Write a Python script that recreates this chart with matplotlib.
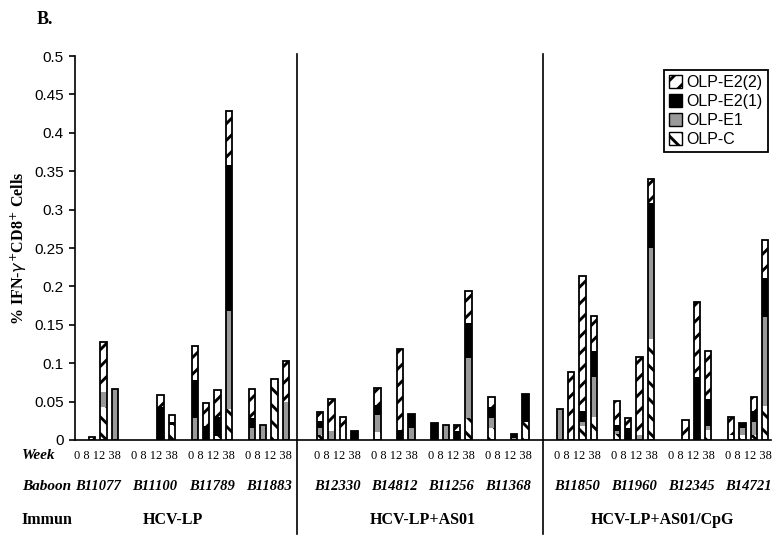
import numpy as np
import matplotlib
matplotlib.use('Agg')
import matplotlib.pyplot as plt
from matplotlib.transforms import blended_transform_factory
from matplotlib.patches import Patch

plt.rcParams['hatch.linewidth'] = 2.1

weeks = ['0', '8', '12', '38']
baboons = ['B11077', 'B11100', 'B11789', 'B11883',
           'B12330', 'B14812', 'B11256', 'B11368',
           'B11850', 'B11960', 'B12345', 'B14721']
immun = ['HCV-LP', 'HCV-LP+AS01', 'HCV-LP+AS01/CpG']

# values per baboon, weeks 0, 8, 12, 38
olp_c = [0, 0, 0.043, 0,   0, 0, 0, 0.020,   0, 0, 0.005, 0.041,   0, 0, 0.075, 0,
         0.007, 0, 0.008, 0,   0.010, 0, 0, 0,   0, 0, 0, 0.028,   0.016, 0, 0, 0.024,
         0, 0, 0.018, 0.030,   0.008, 0, 0, 0.131,   0, 0, 0, 0.013,   0.006, 0.0065, 0.006, 0.044]
olp_e1 = [0, 0, 0.020, 0.067,   0, 0, 0, 0,   0.028, 0, 0, 0.127,   0.016, 0.020, 0, 0.050,
          0.009, 0.012, 0, 0,   0.023, 0, 0, 0.016,   0, 0.020, 0, 0.079,   0.013, 0, 0.003, 0,
          0.040, 0, 0.005, 0.052,   0.004, 0, 0.006, 0.119,   0, 0, 0, 0.005,   0, 0.009, 0.018, 0.1165]
olp_e2_1 = [0, 0, 0, 0,   0, 0, 0.043, 0.003,   0.050, 0.018, 0.025, 0.190,   0.012, 0, 0, 0,
            0.009, 0, 0, 0.012,   0.013, 0, 0.013, 0.018,   0.022, 0, 0.012, 0.046,   0.014, 0, 0.005, 0.036,
            0, 0, 0.015, 0.034,   0.008, 0.015, 0, 0.058,   0, 0, 0.0825, 0.036,   0, 0.006, 0.014, 0.050]
olp_e2_2 = [0, 0.004, 0.064, 0,   0, 0, 0.015, 0.009,   0.044, 0.030, 0.035, 0.070,   0.039, 0, 0.004, 0.053,
            0.011, 0.041, 0.022, 0,   0.022, 0, 0.105, 0,   0, 0, 0.008, 0.041,   0.013, 0, 0, 0,
            0, 0.089, 0.1755, 0.046,   0.031, 0.014, 0.1025, 0.0325,   0, 0.026, 0.0975, 0.062,   0.0235, 0, 0.0175, 0.0505]

# slot positions: 4 bars per baboon, one empty slot between baboons, one more between treatments
pos = []
for g in range(len(baboons)):
    for w in range(len(weeks)):
        pos.append(g * 5 + w + g // 4)
pos = np.array(pos, dtype=float)

fig = plt.figure(figsize=(7.83, 5.39), dpi=100)
ax = fig.add_axes([0.0958, 0.1837, 0.8887, 0.7123])

width = 0.56
series = [
    ('OLP-C', np.array(olp_c), 'white', '\\\\'),
    ('OLP-E1', np.array(olp_e1), '#9a9a9a', None),
    ('OLP-E2(1)', np.array(olp_e2_1), 'black', None),
    ('OLP-E2(2)', np.array(olp_e2_2), 'white', '//'),
]
bottom = np.zeros(len(pos))
for name, vals, col, hatch in series:
    ax.bar(pos, vals, width, bottom=bottom, color=col, hatch=hatch,
           edgecolor='black', linewidth=0)
    bottom = bottom + vals

# outline of each stacked bar
has = bottom > 0
ax.bar(pos[has], bottom[has], width, fill=False, edgecolor='black', linewidth=1.3)

ax.set_xlim(-0.5, pos[-1] + 0.5)
ax.set_ylim(0, 0.5)
ax.set_yticks(np.arange(0, 0.501, 0.05))
ax.set_yticklabels(['0', '0.05', '0.1', '0.15', '0.2', '0.25', '0.3', '0.35', '0.4', '0.45', '0.5'],
                   family='Liberation Sans', fontsize=11)
ax.set_xticks([])
ax.spines['top'].set_visible(False)
ax.spines['right'].set_visible(False)
ax.spines['left'].set_linewidth(1.2)
ax.spines['bottom'].set_linewidth(1.2)
ax.tick_params(axis='y', direction='out', length=4, width=1.2, pad=4)

ax.set_ylabel('% IFN-$\\gamma^{+}$CD8$^{+}$ Cells', family='Liberation Serif',
              fontweight='bold', fontsize=11.5, labelpad=4)

# dividers between treatments
trans = blended_transform_factory(ax.transData, fig.transFigure)
for xd in [19.0, 40.5]:
    ax.plot([xd, xd], [0.009, 0.9], color='black', linewidth=1.2,
            transform=trans, clip_on=False)

# row labels below the axis
serif = 'Liberation Serif'
fig.text(0.028, 0.154, 'Week', family=serif, style='italic', fontweight='bold',
         fontsize=11, va='center', ha='left')
fig.text(0.028, 0.098, 'Baboon', family=serif, style='italic', fontweight='bold',
         fontsize=11, va='center', ha='left')
fig.text(0.028, 0.035, 'Immun', family=serif, fontweight='bold',
         fontsize=11.5, va='center', ha='left')
for g, b in enumerate(baboons):
    xc = pos[g * 4:(g + 1) * 4].mean()
    fig.text(xc, 0.154, ' '.join(weeks), family=serif, fontsize=9,
             ha='center', va='center', transform=trans)
    fig.text(xc, 0.098, b, family=serif, style='italic', fontweight='bold',
             fontsize=10.5, ha='center', va='center', transform=trans)
for t, name in enumerate(immun):
    xc = pos[t * 16:(t + 1) * 16].mean()
    if t == 0:
        xc -= 0.9
    fig.text(xc, 0.035, name, family=serif, fontweight='bold', fontsize=11.5,
             ha='center', va='center', transform=trans)

fig.text(0.057, 0.963, 'B.', family=serif, fontweight='bold', fontsize=13,
         ha='center', va='center')

handles = [Patch(facecolor=s[2], hatch=s[3], edgecolor='black', linewidth=1) for s in series][::-1]
labels = [s[0] for s in series][::-1]
leg = ax.legend(handles, labels, loc='upper right', bbox_to_anchor=(1.007, 0.984),
                frameon=True, fancybox=False, edgecolor='black', framealpha=1,
                handlelength=0.8, handleheight=0.8, handletextpad=0.3,
                borderpad=0.3, labelspacing=0.25,
                prop={'family': 'Liberation Sans', 'size': 11.5})
leg.get_frame().set_linewidth(1.3)

fig.savefig('out.png', dpi=100)
